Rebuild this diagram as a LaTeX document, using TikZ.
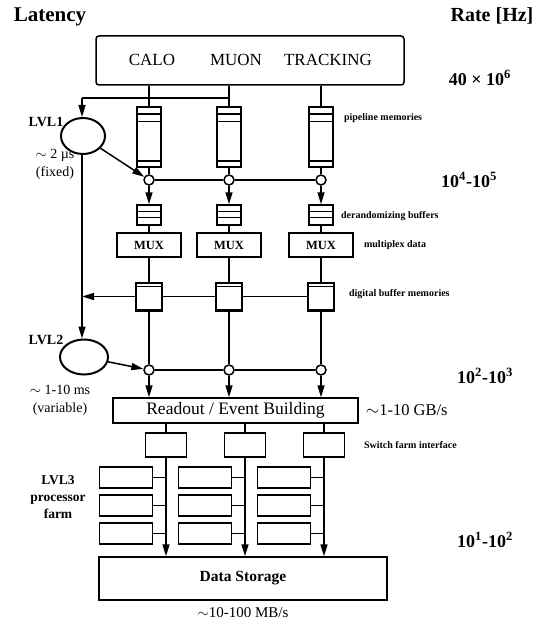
\documentclass[tikz,border=0pt]{standalone}
\usepackage{fontspec}
\setmainfont{Liberation Serif}
\usetikzlibrary{arrows.meta,shapes.geometric}

\begin{document}
\begin{tikzpicture}[
  x=1pt, y=-1pt, line width=1.5pt,
  box/.style={draw, rectangle, inner sep=0pt},
  pipe/.style={box, minimum width=24pt, minimum height=60pt},
  derand/.style={box, minimum width=24pt, minimum height=20pt},
  mux/.style={box, minimum width=64pt, minimum height=24pt,
              font=\bfseries\fontsize{12.5}{12.5}\selectfont},
  dbuf/.style={box, minimum width=26pt, minimum height=27pt},
  junc/.style={circle, draw, fill=white, minimum size=10pt, inner sep=0pt},
  trig/.style={ellipse, draw, line width=2pt, minimum width=44pt,
               minimum height=36pt},
  swf/.style={box, minimum width=41pt, minimum height=24pt},
  proc/.style={box, minimum width=53pt, minimum height=21pt},
  arr/.style={-{Triangle[length=12pt,width=7pt]}},
  rate/.style={font=\bfseries\fontsize{18}{18}\selectfont},
  note/.style={anchor=west, font=\bfseries\fontsize{10}{10}\selectfont},
  lvl/.style={font=\bfseries\fontsize{14}{17}\selectfont, align=center},
  lat/.style={font=\fontsize{14}{18}\selectfont, align=center}
]
  \useasboundingbox (0,0) rectangle (537,623);
  % headings
  \node[font=\bfseries\fontsize{21}{21}\selectfont] (lat) at (50,17) {Latency};
  \node[font=\bfseries\fontsize{20}{20}\selectfont] (rate) at (492,16) {Rate [Hz]};
  % detectors
  \node[box, rounded corners=3pt, minimum width=308pt, minimum height=49pt] (det) at (250,60.5) {};
  \node[font=\fontsize{17}{17}\selectfont] (calo) at (152,60) {CALO};
  \node[font=\fontsize{17}{17}\selectfont] (muon) at (236,60) {MUON};
  \node[font=\fontsize{17}{17}\selectfont] (trk) at (328,60) {TRACKING};
  \node[rate] (r6) at (480,78) {40 × 10\textsuperscript{6}};
  \node[box, minimum width=245pt, minimum height=25pt,
        font=\fontsize{17.5}{17.5}\selectfont] (ro) at (235.5,410.5) {Readout / Event Building};
  \node[box, minimum width=288pt, minimum height=43pt,
        font=\bfseries\fontsize{15.5}{15.5}\selectfont] (ds) at (243,578.5) {Data Storage};
  % front-end chain, one per detector
  \foreach \i/\x in {1/149,2/229,3/321}{
    \node[pipe] (p\i) at (\x,137) {};
    \node[junc] (j\i) at (\x,180) {};
    \node[derand] (dr\i) at (\x,215) {};
    \node[mux] (mx\i) at (\x,245) {MUX};
    \node[dbuf] (db\i) at (\x,296.5) {};
    \node[junc] (k\i) at (\x,370) {};
    \draw (det.south -| p\i) -- (p\i);
    \draw ([yshift=-8pt]p\i.north west) -- ([yshift=-8pt]p\i.north east);
    \draw ([yshift=-15pt]p\i.north west) -- ([yshift=-15pt]p\i.north east);
    \draw ([yshift=7pt]p\i.south west) -- ([yshift=7pt]p\i.south east);
    \draw ([yshift=-7pt]dr\i.north west) -- ([yshift=-7pt]dr\i.north east);
    \draw ([yshift=-13pt]dr\i.north west) -- ([yshift=-13pt]dr\i.north east);
    \draw ([yshift=-4pt]db\i.north west) -- ([yshift=-4pt]db\i.north east);
    \draw[line width=2.6pt] (db\i.south west) -- (db\i.south east);
    \draw (p\i) -- (j\i);
    \draw[arr] (j\i) -- (dr\i);
    \draw (dr\i) -- (mx\i);
    \draw (mx\i) -- (db\i);
    \draw (db\i) -- (k\i);
    \draw[arr] (k\i) -- (k\i |- ro.north);
  }
  \draw (j1) -- (j2) -- (j3);
  \draw (k1) -- (k2) -- (k3);
  \draw (db1) -- (db2) -- (db3);
  % trigger levels
  \coordinate (lv) at (82,98);
  \draw (lv) -- (lv -| p2);
  \node[trig] (t1) at (83,136) {};
  \node[trig, minimum width=48pt, minimum height=35pt] (t2) at (84,357) {};
  \draw[arr] (lv) -- (lv |- t1.north);
  \draw[arr] (t1.south -| lv) -- (t2.north -| lv);
  \draw[arr] (t1.-35) -- (j1);
  \draw[arr] (db1) -- (db1 -| lv);
  \draw[arr] (t2) -- (k1);
  \node[lvl] (l1) at (46,122) {LVL1};
  \node[lat] (l1t) at (55,164) {$\sim$ 2 µs\\(fixed)};
  \node[lvl] (l2) at (46,340) {LVL2};
  \node[lat] (l2t) at (60,400) {$\sim$ 1-10 ms\\(variable)};
  \node[lvl, font=\bfseries\fontsize{13.5}{17}\selectfont] (l3) at (58,497) {LVL3\\processor\\farm};
  % event filter farm
  \foreach \i/\x in {1/166,2/245,3/324}{
    \node[swf] (sw\i) at (\x,445) {};
    \draw (ro.south -| sw\i) -- (sw\i);
    \draw[arr] (sw\i) -- (sw\i |- ds.north);
    \foreach \r/\y in {1/477.5,2/505.5,3/533.5}{
      \node[proc, anchor=east] (pf\i\r) at ({\x-13},\y) {};
      \draw (pf\i\r) -- (pf\i\r -| sw\i);
    }
  }
  % labels
  \node[note] (nt1) at (340,118) {pipeline memories};
  \node[note] (nt2) at (337,216) {derandomizing buffers};
  \node[note] (nt3) at (360,245) {multiplex data};
  \node[note] (nt4) at (345,294) {digital buffer memories};
  \node[note] (nt5) at (360,445) {Switch farm interface};
  \node[anchor=west, font=\fontsize{16.5}{16.5}\selectfont] (gbs) at ([xshift=3pt]ro.east) {$\sim$1-10 GB/s};
  \node[rate] (r5) at (469,180) {10\textsuperscript{4}-10\textsuperscript{5}};
  \node[rate] (r3) at (485,376) {10\textsuperscript{2}-10\textsuperscript{3}};
  \node[rate] (r2) at (485,540) {10\textsuperscript{1}-10\textsuperscript{2}};
  \node[font=\fontsize{15}{15}\selectfont] (mbs) at (243,613) {$\sim$10-100 MB/s};
\end{tikzpicture}
\end{document}
